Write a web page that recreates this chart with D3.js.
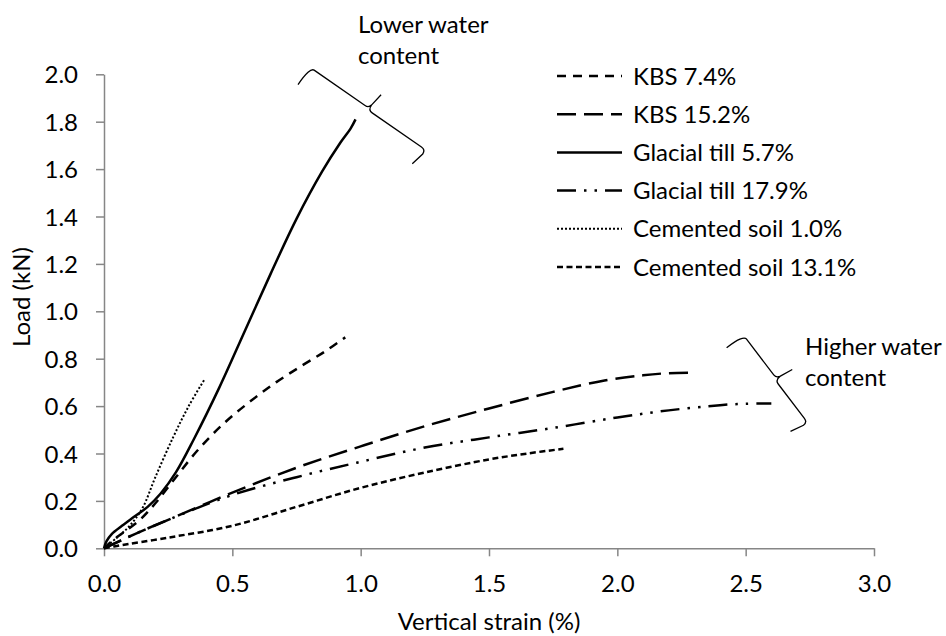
<!DOCTYPE html>
<html>
<head>
<meta charset="utf-8">
<script src="https://cdn.jsdelivr.net/npm/d3@7"></script>
<style>
  html, body { margin: 0; padding: 0; background: #fff; }
  svg { display: block; }
  text { font-family: Lato, "Open Sans", sans-serif; fill: #000; }
</style>
</head>
<body>
<svg id="chart" width="946" height="636"></svg>
<script>
// Load–strain curves, one array of [strain %, load kN] pairs per sample
const kbs74 = [[0,0],[0.03,0.03],[0.08,0.07],[0.14,0.12],[0.2,0.19],[0.28,0.3],[0.37,0.42],[0.47,0.53],[0.57,0.62],[0.67,0.7],[0.77,0.77],[0.86,0.83],[0.94,0.89]];
const kbs152 = [[0,0],[0.05,0.025],[0.12,0.06],[0.25,0.12],[0.5,0.235],[0.75,0.34],[1.0,0.43],[1.25,0.515],[1.5,0.59],[1.75,0.66],[1.95,0.708],[2.1,0.73],[2.2,0.739],[2.3,0.741]];
const till57 = [[0,0],[0.01,0.03],[0.03,0.06],[0.07,0.095],[0.12,0.135],[0.17,0.175],[0.22,0.23],[0.28,0.32],[0.35,0.46],[0.45,0.68],[0.55,0.92],[0.65,1.16],[0.75,1.39],[0.85,1.59],[0.92,1.71],[0.96,1.77],[0.98,1.81]];
const till179 = [[0,0],[0.05,0.025],[0.12,0.06],[0.25,0.12],[0.5,0.225],[0.75,0.3],[1.0,0.365],[1.25,0.425],[1.5,0.468],[1.75,0.508],[2.0,0.552],[2.2,0.582],[2.4,0.604],[2.5,0.61],[2.6,0.611]];
const cem10 = [[0,0],[0.05,0.045],[0.1,0.095],[0.15,0.17],[0.2,0.3],[0.27,0.47],[0.33,0.6],[0.39,0.71]];
const cem131 = [[0,0],[0.05,0.01],[0.25,0.045],[0.5,0.095],[0.75,0.175],[1.0,0.255],[1.25,0.32],[1.5,0.375],[1.65,0.4],[1.79,0.42]];

const seriesNames = ["KBS 7.4%", "KBS 15.2%", "Glacial till 5.7%", "Glacial till 17.9%", "Cemented soil 1.0%", "Cemented soil 13.1%"];
const seriesValues = [kbs74, kbs152, till57, till179, cem10, cem131];

const xTicks = [0, 0.5, 1.0, 1.5, 2.0, 2.5, 3.0];
const yTicks = [0, 0.2, 0.4, 0.6, 0.8, 1.0, 1.2, 1.4, 1.6, 1.8, 2.0];

// Braces grouping the curves, ends given in data units
const braceLower = [[0.8026, 2.0295], [1.2573, 1.6878]];
const braceHigher = [[2.4908, 0.900], [2.7468, 0.537]];

// Line styles per series
const styles = [
  { dash: "9,7", width: 2.5 },
  { dash: "19,8", width: 2.5 },
  { dash: null, width: 2.5 },
  { dash: "19,8,2.5,8,2.5,8", width: 2.5 },
  { dash: "2,2", width: 2 },
  { dash: "6,3.5", width: 2.5 }
];

const svg = d3.select("#chart");
const plot = { left: 104, right: 874, top: 74.3, bottom: 548.3 };

const x = d3.scaleLinear().domain([0, 3]).range([plot.left, plot.right]);
const y = d3.scaleLinear().domain([0, 2]).range([plot.bottom, plot.top]);

const axisColor = "#868686";
const fontSize = 24;

// Axes
const xAxis = svg.append("g").attr("transform", `translate(0,${plot.bottom})`)
  .call(d3.axisBottom(x).tickValues(xTicks).tickSize(8).tickSizeOuter(0).tickFormat(d3.format(".1f")));
const yAxis = svg.append("g").attr("transform", `translate(${plot.left},0)`)
  .call(d3.axisLeft(y).tickValues(yTicks).tickSize(8).tickSizeOuter(0).tickFormat(d3.format(".1f")));

[xAxis, yAxis].forEach(g => {
  g.select(".domain").attr("stroke", axisColor).attr("stroke-width", 1.5);
  g.selectAll(".tick line").attr("stroke", axisColor).attr("stroke-width", 1.5);
  g.selectAll(".tick text").style("font-family", "Lato, sans-serif").style("font-size", fontSize + "px").attr("fill", "#000");
});
xAxis.selectAll(".tick text").attr("dy", null).attr("y", 44);
yAxis.selectAll(".tick text").attr("x", -26).attr("dy", "0.36em");

// Axis titles
svg.append("text")
  .attr("x", (plot.left + plot.right) / 2).attr("y", 630)
  .attr("text-anchor", "middle").style("font-size", fontSize + "px")
  .text("Vertical strain (%)");
svg.append("text")
  .attr("transform", `translate(30,${297}) rotate(-90)`)
  .attr("text-anchor", "middle").style("font-size", fontSize + "px")
  .text("Load (kN)");

// Curves
const line = d3.line().x(d => x(d[0])).y(d => y(d[1])).curve(d3.curveCatmullRom.alpha(0.5));
svg.append("g").selectAll("path").data(seriesValues).join("path")
  .attr("d", line)
  .attr("fill", "none")
  .attr("stroke", "#000")
  .attr("stroke-width", (d, i) => styles[i].width)
  .attr("stroke-dasharray", (d, i) => styles[i].dash);

// Legend
const legend = svg.append("g");
seriesNames.forEach((name, i) => {
  const cy = 76 + i * 38.2;
  legend.append("line")
    .attr("x1", 557).attr("x2", 622).attr("y1", cy).attr("y2", cy)
    .attr("stroke", "#000")
    .attr("stroke-width", styles[i].width)
    .attr("stroke-dasharray", styles[i].dash);
  legend.append("text")
    .attr("x", 633).attr("y", cy + 8.5)
    .style("font-size", fontSize + "px")
    .text(name);
});

// Curly brace between two pixel points, arms bending toward `side` of the p1→p2 direction
function bracePath(p1, p2, arm, tip, side) {
  const dx = p2[0] - p1[0], dy = p2[1] - p1[1];
  const len = Math.hypot(dx, dy);
  const u = [dx / len, dy / len];
  const n = [-u[1] * side, u[0] * side];   // toward the open side
  const P = (p, a, b) => [p[0] + u[0] * a + n[0] * b, p[1] + u[1] * a + n[1] * b];
  const m = [(p1[0] + p2[0]) / 2, (p1[1] + p2[1]) / 2];
  const r = 5;
  const path = d3.path();
  let a = P(p1, 0, arm); path.moveTo(a[0], a[1]);
  let c = P(p1, 0, 0), e = P(p1, r, 0);
  path.quadraticCurveTo(c[0], c[1], e[0], e[1]);
  e = P(m, -4, 0); path.lineTo(e[0], e[1]);
  c = P(m, 0, 0); e = P(m, 1, -4);
  path.quadraticCurveTo(c[0], c[1], e[0], e[1]);
  e = P(m, 3, -tip); path.lineTo(e[0], e[1]);
  a = P(m, 1, -4); path.moveTo(a[0], a[1]);
  c = P(m, 1, 2); e = P(m, 6, 2);
  path.quadraticCurveTo(c[0], c[1], e[0], e[1]);
  e = P(p2, -r, 2); path.lineTo(e[0], e[1]);
  c = P(p2, 0, 2); e = P(p2, 0, 2 + r);
  path.quadraticCurveTo(c[0], c[1], e[0], e[1]);
  e = P(p2, -3, arm); path.lineTo(e[0], e[1]);
  return path.toString();
}

[braceLower, braceHigher].forEach(b => {
  const p1 = [x(b[0][0]), y(b[0][1])];
  const p2 = [x(b[1][0]), y(b[1][1])];
  svg.append("path")
    .attr("d", bracePath(p1, p2, 21, 18, 1))
    .attr("fill", "none").attr("stroke", "#000").attr("stroke-width", 1.3);
});

// Annotations
function note(lines, px, py) {
  const t = svg.append("text").attr("x", px).attr("y", py).style("font-size", fontSize + "px");
  lines.forEach((s, i) => t.append("tspan").attr("x", px).attr("dy", i === 0 ? 0 : 31).text(s));
}
note(["Lower water", "content"], 358, 33);
note(["Higher water", "content"], 805, 355);
</script>
</body>
</html>
